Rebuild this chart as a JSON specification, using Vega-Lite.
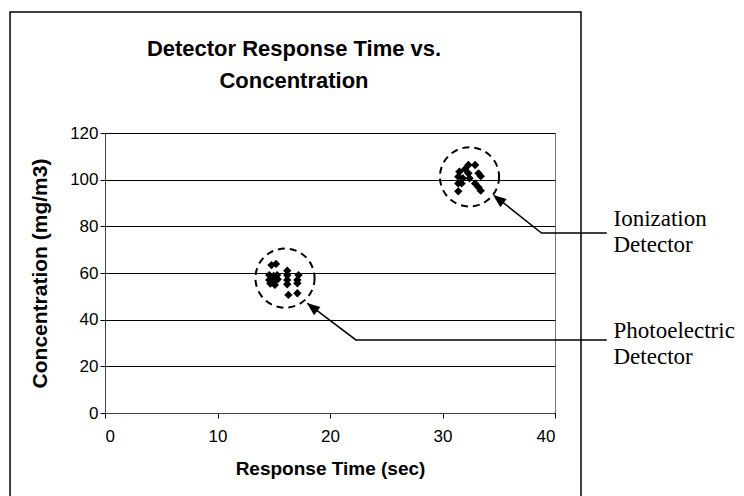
{
  "$schema": "https://vega.github.io/schema/vega-lite/v6.json",
  "width": 450,
  "height": 280,
  "autosize": {"type": "none"},
  "padding": {"left": 105, "top": 133, "right": 189, "bottom": 83},
  "background": "white",
  "config": {
    "view": {"stroke": "#777", "strokeWidth": 1},
    "font": "Liberation Sans"
  },
  "title": {
    "text": ["Detector Response Time vs.", "Concentration"],
    "font": "Liberation Sans",
    "fontSize": 22,
    "fontWeight": "bold",
    "color": "black",
    "anchor": "middle",
    "frame": "group",
    "dx": -36,
    "offset": 0,
    "dy": 82,
    "lineHeight": 32
  },
  "layer": [
    {
      "data": {"values": [
        {"x": 14.8, "y": 63.4}, {"x": 15.2, "y": 63.9}, {"x": 14.6, "y": 59.1}, {"x": 15.0, "y": 58.7},
        {"x": 15.3, "y": 59.1}, {"x": 14.6, "y": 57.0}, {"x": 15.0, "y": 56.7}, {"x": 15.35, "y": 57.3},
        {"x": 15.1, "y": 54.9}, {"x": 14.7, "y": 55.5}, {"x": 16.2, "y": 61.0}, {"x": 16.2, "y": 59.0},
        {"x": 16.2, "y": 57.0}, {"x": 16.2, "y": 55.2}, {"x": 17.2, "y": 59.1}, {"x": 17.1, "y": 57.0},
        {"x": 17.1, "y": 55.6}, {"x": 16.3, "y": 50.6}, {"x": 17.1, "y": 51.3},
        {"x": 32.3, "y": 106.3}, {"x": 32.9, "y": 106.3}, {"x": 33.2, "y": 102.7}, {"x": 33.4, "y": 101.5},
        {"x": 31.5, "y": 103.4}, {"x": 31.4, "y": 101.3}, {"x": 31.8, "y": 100.6}, {"x": 32.3, "y": 102.7},
        {"x": 32.4, "y": 100.6}, {"x": 31.4, "y": 98.4}, {"x": 31.7, "y": 98.4}, {"x": 32.9, "y": 98.4},
        {"x": 33.2, "y": 96.7}, {"x": 33.4, "y": 95.3}, {"x": 31.4, "y": 95.0}, {"x": 32.0, "y": 104.5}
      ]},
      "mark": {"type": "point", "shape": "diamond", "filled": true, "color": "black", "size": 70, "opacity": 1},
      "encoding": {
        "x": {
          "field": "x", "type": "quantitative",
          "scale": {"domain": [0, 40], "nice": false},
          "axis": {
            "title": "Response Time (sec)",
            "values": [0, 10, 20, 30, 40],
            "grid": false,
            "tickSize": 5, "tickColor": "black",
            "domainColor": "#444",
            "labelFontSize": 17, "labelColor": "black", "labelPadding": 10,
            "titleFontSize": 19, "titleFontWeight": "bold", "titleColor": "black",
            "titleX": 225, "titleY": 55, "titleBaseline": "middle", "titleAlign": "center"
          }
        },
        "y": {
          "field": "y", "type": "quantitative",
          "scale": {"domain": [0, 120], "nice": false},
          "axis": {
            "title": "Concentration (mg/m3)",
            "values": [0, 20, 40, 60, 80, 100, 120],
            "grid": true, "gridColor": "black", "gridWidth": 1,
            "tickSize": 5, "tickColor": "black",
            "domainColor": "#444",
            "labelFontSize": 17, "labelColor": "black", "labelPadding": 2,
            "titleFontSize": 21, "titleFontWeight": "bold", "titleColor": "black",
            "titleX": -65, "titleY": 140, "titleBaseline": "middle", "titleAlign": "center"
          }
        }
      }
    },
    {
      "data": {"values": [
        {"x": 16.0, "y": 57.8},
        {"x": 32.4, "y": 101.2}
      ]},
      "mark": {"type": "point", "shape": "circle", "filled": false, "stroke": "black", "strokeWidth": 2, "strokeDash": [7, 5], "size": 3500, "opacity": 1},
      "encoding": {
        "x": {"field": "x", "type": "quantitative"},
        "y": {"field": "y", "type": "quantitative"}
      }
    },
    {
      "data": {"values": [
        {"series": "Ionization", "ord": 1, "x": 44.6, "y": 77.1},
        {"series": "Ionization", "ord": 2, "x": 38.8, "y": 77.1},
        {"series": "Ionization", "ord": 3, "x": 34.6, "y": 93.2},
        {"series": "Photoelectric", "ord": 1, "x": 44.6, "y": 31.3},
        {"series": "Photoelectric", "ord": 2, "x": 22.3, "y": 31.3},
        {"series": "Photoelectric", "ord": 3, "x": 18.0, "y": 47.0}
      ]},
      "mark": {"type": "line", "color": "black", "strokeWidth": 1.5},
      "encoding": {
        "x": {"field": "x", "type": "quantitative"},
        "y": {"field": "y", "type": "quantitative"},
        "detail": {"field": "series"},
        "order": {"field": "ord"}
      }
    },
    {
      "data": {"values": [
        {"x": 34.5, "y": 93.4},
        {"x": 17.95, "y": 47.1}
      ]},
      "mark": {"type": "point", "shape": "M0,0 L0.55,1.4 L-0.55,1.4 Z", "filled": true, "color": "black", "size": 350, "angle": 308, "opacity": 1},
      "encoding": {
        "x": {"field": "x", "type": "quantitative"},
        "y": {"field": "y", "type": "quantitative"}
      }
    },
    {
      "data": {"values": [
        {"label": "Ionization\nDetector", "x": 45.2, "y": 80.3},
        {"label": "Photoelectric\nDetector", "x": 45.2, "y": 32.2}
      ]},
      "mark": {"type": "text", "font": "Liberation Serif", "fontSize": 23, "align": "left", "baseline": "alphabetic", "lineBreak": "\n", "lineHeight": 26, "color": "black"},
      "encoding": {
        "x": {"field": "x", "type": "quantitative"},
        "y": {"field": "y", "type": "quantitative"},
        "text": {"field": "label"}
      }
    },
    {
      "data": {"values": [
        {"x": -8.44, "x2": 42.31, "y": 171.9, "y2": -40}
      ]},
      "mark": {"type": "rect", "filled": false, "stroke": "black", "strokeWidth": 1.5, "fill": null},
      "encoding": {
        "x": {"field": "x", "type": "quantitative"},
        "x2": {"field": "x2"},
        "y": {"field": "y", "type": "quantitative"},
        "y2": {"field": "y2"}
      }
    }
  ]
}
